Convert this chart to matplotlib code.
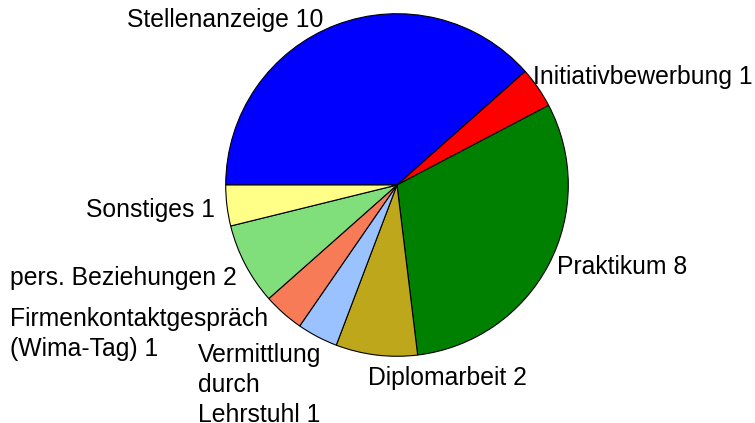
import matplotlib
matplotlib.use("Agg")
import matplotlib.pyplot as plt

categories = ["Stellenanzeige", "Initiativbewerbung", "Praktikum", "Diplomarbeit",
              "Vermittlung\ndurch\nLehrstuhl", "Firmenkontaktgespräch\n(Wima-Tag)",
              "pers. Beziehungen", "Sonstiges"]
values = [10, 1, 8, 2, 1, 1, 2, 1]
colors = ["#0000FF", "#FF0000", "#008000", "#BFA71C", "#99C2FF", "#F77B56", "#80DF7B", "#FFFF88"]

# label anchor positions in pixels (x, y from top), alignment
label_pos = [(127, 20, "left"), (533, 77, "left"), (557, 267, "left"), (368, 378, "left"),
             (198, 385, "left"), (10, 334, "left"), (10, 278, "left"), (86, 210, "left")]

W, H = 755, 423
fig = plt.figure(figsize=(W / 100, H / 100), dpi=100)
cx, cy, r = 397, 185, 173
ax = fig.add_axes([(cx - r) / W, (H - cy - r) / H, 2 * r / W, 2 * r / H])
ax.pie(values, colors=colors, startangle=180, counterclock=False, radius=1,
       wedgeprops=dict(edgecolor="black", linewidth=0.8))
ax.set_xlim(-1.01, 1.01)
ax.set_ylim(-1.01, 1.01)
ax.set_aspect("equal")
ax.axis("off")

for cat, val, (x, y, ha) in zip(categories, values, label_pos):
    fig.text(x / W, 1 - y / H, f"{cat} {val}", ha=ha, va="center",
             fontsize=17.8, family=["Liberation Sans", "DejaVu Sans"], linespacing=1.3)

fig.savefig("out.png", dpi=100)
